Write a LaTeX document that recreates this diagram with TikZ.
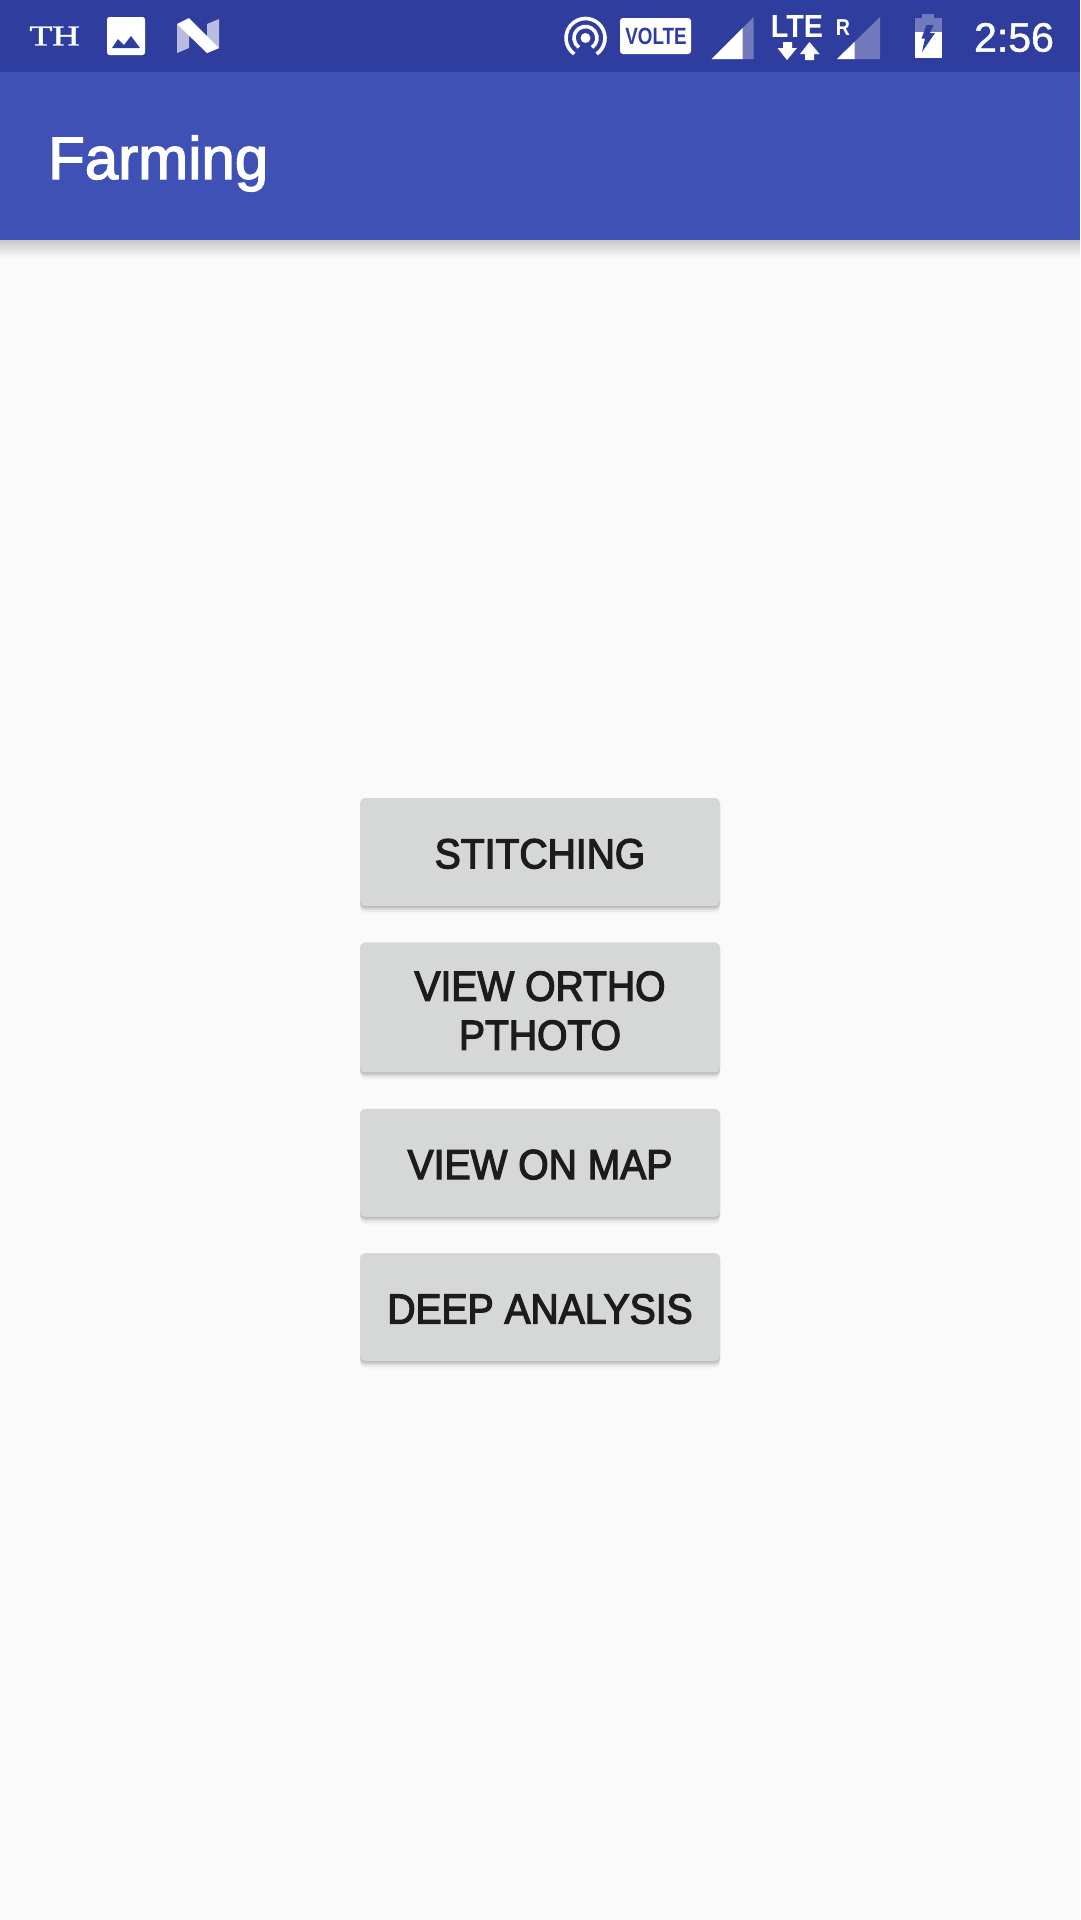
\documentclass[tikz,border=0pt]{standalone}
\usepackage{fontspec}
\setmainfont{Liberation Sans}
\newfontfamily\mediumfont[FakeBold=3,FakeStretch=0.93]{Liberation Sans}
\newfontfamily\titlefont[FakeBold=2.2]{Liberation Sans}
\newfontfamily\clockfont[FakeBold=1.2]{Liberation Sans}
\newfontfamily\capsfont[FakeBold=1.5]{Liberation Serif}
\usepackage{xcolor}
\usepackage{tikz}
\usetikzlibrary{positioning,shapes,shadows}
\definecolor{statusblue}{HTML}{2F3E9E}
\definecolor{barblue}{HTML}{3F51B5}
\definecolor{dimblue}{HTML}{7279BC}
\definecolor{paleblue}{HTML}{B8BCDE}
\definecolor{page}{HTML}{FAFAFA}
\definecolor{buttongrey}{HTML}{D6D7D7}
\definecolor{labelgrey}{HTML}{1C1C1C}
\tikzstyle{softshadow}=[general shadow={shadow xshift=0pt, shadow yshift=-1pt, fill=black, opacity=.06},
        general shadow={shadow xshift=0pt, shadow yshift=-2pt, fill=black, opacity=.06},
        general shadow={shadow xshift=0pt, shadow yshift=-3pt, fill=black, opacity=.05},
        general shadow={shadow xshift=0pt, shadow yshift=-4pt, fill=black, opacity=.05},
        general shadow={shadow xshift=0pt, shadow yshift=-6pt, fill=black, opacity=.04},
        general shadow={shadow xshift=0pt, shadow yshift=-8pt, fill=black, opacity=.02}]
\tikzstyle{menubutton}=[rectangle, rounded corners=5pt, fill=buttongrey, softshadow,
        text centered, text=labelgrey, minimum width=360pt, minimum height=108pt, inner sep=0pt,
        font=\mediumfont\fontsize{42}{49}\selectfont, align=center]
\tikzstyle{statustext}=[text=white, inner sep=0pt, anchor=center]

\begin{document}
\begin{tikzpicture}[x=1pt, y=-1pt, node distance=36pt]
        \fill[page] (0,0) rectangle (1080,1920);
        \useasboundingbox (0,0) rectangle (1080,1920);

        % bars
        \shade[top color=black!20!page, bottom color=page] (0,240) rectangle (1080,258);
        \fill[barblue] (0,72) rectangle (1080,240);
        \fill[statusblue] (0,0) rectangle (1080,72);
        \node (title) [anchor=base west, inner sep=0pt, text=white, font=\titlefont\fontsize{60}{60}\selectfont] at (48,179) {Farming};

        % left icons
        \node (carrier) [statustext, font=\capsfont\fontsize{29}{29}\selectfont] at (54.5,36) {\scalebox{1.3}[1]{TH}};
        \fill[white, rounded corners=2.5pt] (107,17) rectangle (145,55);
        \fill[statusblue] (112,48) -- (118,39) -- (124,45) -- (131,36) -- (140,48) -- cycle;
        \fill[paleblue] (177,24) -- (177,53) -- (189,48) -- (189,30) -- cycle;
        \fill[paleblue] (207,24) -- (219,19) -- (219,48) -- (207,53) -- cycle;
        \fill[white] (177,24) -- (189,18) -- (219,48) -- (207,53) -- cycle;

        % hotspot
        \fill[white] (585.5,38) circle (5);
        \draw[white, line width=3.6pt] (585.5,38) ++(55:11.5) arc (55:-235:11.5);
        \draw[white, line width=3.6pt] (585.5,38) ++(55:19.5) arc (55:-235:19.5);

        % volte
        \fill[white, rounded corners=3pt] (620,18) rectangle (691,54);
        \node (volte) [inner sep=0pt, text=statusblue, font=\bfseries\fontsize{23.5}{23.5}\selectfont] at (656,36) {\scalebox{0.8}[1]{VOLTE}};

        % first signal
        \fill[dimblue] (711.5,59) -- (753.5,17) -- (753.5,59) -- cycle;
        \fill[white] (711.5,59) -- (742.5,28) -- (742.5,59) -- cycle;
        \node (lte) [statustext, font=\bfseries\fontsize{32}{32}\selectfont] at (797,26.5) {\scalebox{0.9}[1]{LTE}};
        \fill[white] (783,42) -- (792,42) -- (792,48) -- (797,48) -- (787,60) -- (777.5,48) -- (783,48) -- cycle;
        \fill[white] (805,60) -- (814,60) -- (814,54) -- (819.5,54) -- (809.5,42) -- (800,54) -- (805,54) -- cycle;

        % second signal
        \node (roaming) [statustext, font=\bfseries\fontsize{23}{23}\selectfont] at (843,27.5) {\scalebox{0.85}[1]{R}};
        \fill[dimblue] (837,59) -- (880,17) -- (880,59) -- cycle;
        \fill[white] (837,59) -- (854.5,42) -- (854.5,59) -- cycle;

        % battery
        \fill[dimblue] (922,14) rectangle (934,18);
        \fill[dimblue] (914.5,18) rectangle (942,32);
        \fill[white] (914.5,32) rectangle (942,57.5);
        \fill[statusblue] (926.5,25) -- (933.5,25) -- (930,33) -- (935,33) -- (922,52) -- (925,38.5) -- (921.5,38.5) -- cycle;
        \node (clock) [statustext, font=\clockfont\fontsize{41}{41}\selectfont] at (1014,37.5) {2:56};

        % buttons
        \node (stitching) [menubutton] at (540,852) {\rule{0pt}{33pt}STITCHING};
        \node (ortho) [menubutton, minimum height=130pt, below=of stitching] {\rule{0pt}{36pt}VIEW ORTHO\\PTHOTO};
        \node (map) [menubutton, below=of ortho] {\rule{0pt}{33pt}VIEW ON MAP};
        \node (analysis) [menubutton, below=of map] {\rule{0pt}{33pt}DEEP ANALYSIS};
\end{tikzpicture}
\end{document}
